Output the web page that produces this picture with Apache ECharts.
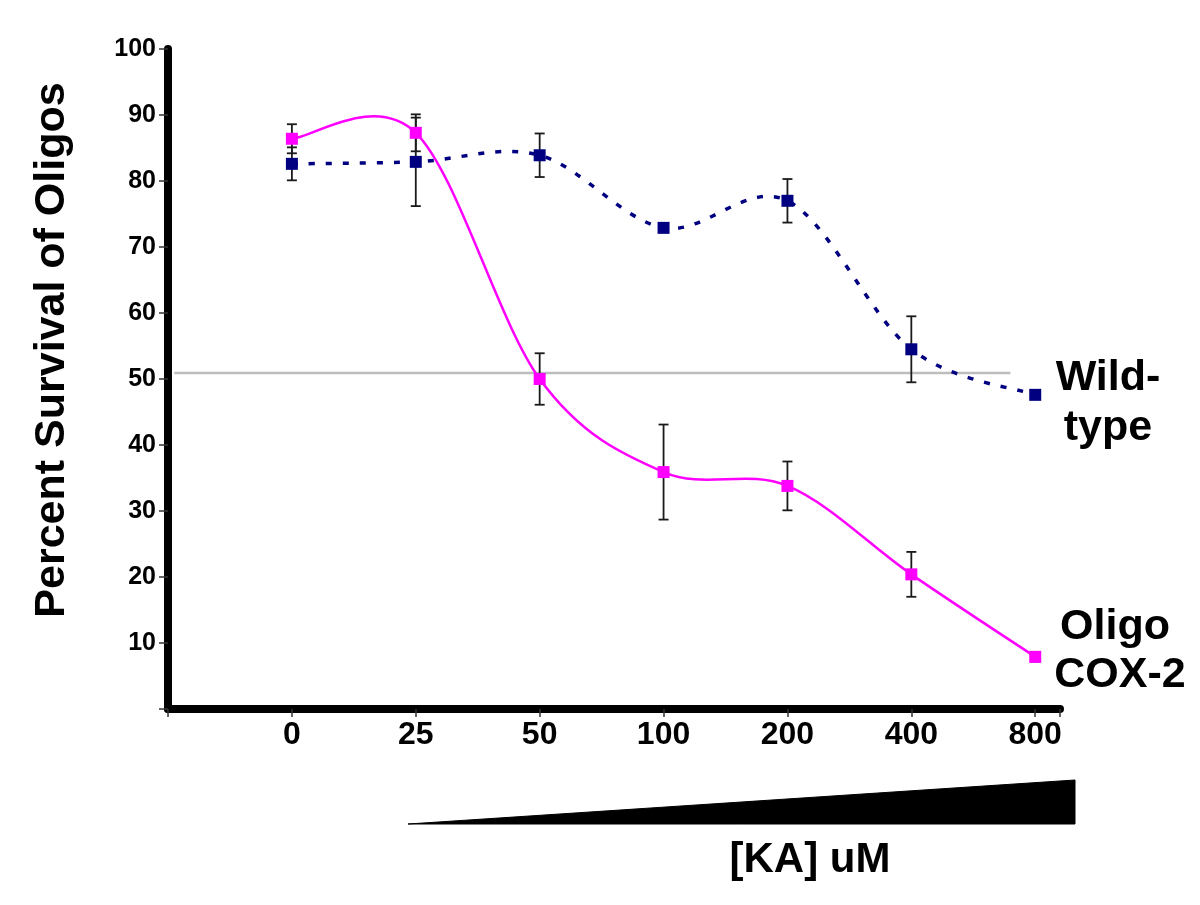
<!DOCTYPE html>
<html>
<head>
<meta charset="utf-8">
<script src="https://cdn.jsdelivr.net/npm/echarts@6/dist/echarts.min.js"></script>
<style>
html,body{margin:0;padding:0;background:#fff;}
#chart{width:1200px;height:905px;}
</style>
</head>
<body>
<div id="chart"></div>
<script>
// ---- data ----
const categories = ['0', '25', '50', '100', '200', '400', '800'];
const wildType = [82.6, 82.9, 83.9, 72.9, 77.0, 54.5, 47.6];
const wildTypeErr = [2.5, 6.7, 3.3, 0.4, 3.3, 5.0, 0.4];
const oligoCox2 = [86.4, 87.3, 50.0, 35.9, 33.8, 20.4, 7.9];
const oligoCox2Err = [2.2, 2.8, 3.9, 7.2, 3.7, 3.4, 0.7];
const yTicks = [0, 10, 20, 30, 40, 50, 60, 70, 80, 90, 100];
const thresholdValue = 50.9;
const thresholdSpan = [-0.95, 5.8];

// ---- build ----
const FONT = '"Liberation Sans", Arial, Helvetica, sans-serif';
const toXY = arr => arr.map((v, i) => [i, v]);
const toErr = (vals, errs) => vals.map((v, i) => [i, v - errs[i], v + errs[i]]);

function errRender(params, api) {
  const x = api.value(0);
  const lo = api.coord([x, api.value(1)]);
  const hi = api.coord([x, api.value(2)]);
  const w = 5;
  const st = { stroke: '#1a1a1a', lineWidth: 1.8 };
  return {
    type: 'group',
    children: [
      { type: 'line', shape: { x1: lo[0], y1: lo[1], x2: hi[0], y2: hi[1] }, style: st },
      { type: 'line', shape: { x1: lo[0] - w, y1: lo[1], x2: lo[0] + w, y2: lo[1] }, style: st },
      { type: 'line', shape: { x1: hi[0] - w, y1: hi[1], x2: hi[0] + w, y2: hi[1] }, style: st }
    ]
  };
}

// Catmull-Rom style smoothed curve (spreadsheet-like smoothing) through the data,
// positioned with the chart's own axes via api.coord.
function smoothCurve(values, style) {
  return function (params, api) {
    if (params.dataIndex !== 0) return null;
    const pts = values.map((v, i) => api.coord([i, v]));
    const n = pts.length;
    let d = 'M' + pts[0][0] + ' ' + pts[0][1];
    for (let i = 0; i < n - 1; i++) {
      const p0 = pts[Math.max(i - 1, 0)];
      const p1 = pts[i];
      const p2 = pts[i + 1];
      const p3 = pts[Math.min(i + 2, n - 1)];
      const c1x = p1[0] + (p2[0] - p0[0]) / 6;
      const c1y = p1[1] + (p2[1] - p0[1]) / 6;
      const c2x = p2[0] - (p3[0] - p1[0]) / 6;
      const c2y = p2[1] - (p3[1] - p1[1]) / 6;
      d += ' C' + c1x + ' ' + c1y + ' ' + c2x + ' ' + c2y + ' ' + p2[0] + ' ' + p2[1];
    }
    return {
      type: 'path',
      shape: { pathData: d },
      style: Object.assign({ fill: null }, style)
    };
  };
}

const chart = echarts.init(document.getElementById('chart'), null, { renderer: 'canvas' });
chart.setOption({
  animation: false,
  backgroundColor: '#ffffff',
  grid: { left: 168, right: 140, top: 49, bottom: 196, containLabel: false },
  xAxis: {
    type: 'value',
    min: -1,
    max: 6.2,
    interval: 1,
    splitLine: { show: false },
    axisLine: { show: true, onZero: false, lineStyle: { color: '#000', width: 8 } },
    axisTick: { show: true, length: 8, lineStyle: { color: '#333', width: 1.5 } },
    axisLabel: {
      margin: 10,
      fontFamily: FONT,
      fontWeight: 'bold',
      fontSize: 32,
      color: '#000',
      formatter: v => (Number.isInteger(v) && v >= 0 && v < categories.length) ? categories[v] : ''
    }
  },
  yAxis: {
    type: 'value',
    min: yTicks[0],
    max: yTicks[yTicks.length - 1],
    interval: 10,
    splitLine: { show: false },
    axisLine: { show: true, onZero: false, lineStyle: { color: '#000', width: 8 } },
    axisTick: { show: true, length: 9, lineStyle: { color: '#333', width: 1.5 } },
    axisLabel: {
      margin: 12,
      fontFamily: FONT,
      fontWeight: 'bold',
      fontSize: 25,
      color: '#000',
      formatter: v => (v === 0 ? '' : String(v))
    }
  },
  series: [
    {
      name: 'threshold',
      type: 'line',
      data: [[thresholdSpan[0], thresholdValue], [thresholdSpan[1], thresholdValue]],
      symbol: 'none',
      lineStyle: { color: '#bdbdbd', width: 2.5 },
      z: 1,
      silent: true
    },
    {
      name: 'Wild-type error',
      type: 'custom',
      renderItem: errRender,
      data: toErr(wildType, wildTypeErr),
      z: 2
    },
    {
      name: 'Oligo COX-2 error',
      type: 'custom',
      renderItem: errRender,
      data: toErr(oligoCox2, oligoCox2Err),
      z: 2
    },
    {
      name: 'Wild-type curve',
      type: 'custom',
      renderItem: smoothCurve(wildType, { stroke: '#000080', lineWidth: 3.5, lineDash: [6, 11] }),
      data: toXY(wildType),
      z: 3,
      silent: true
    },
    {
      name: 'Oligo COX-2 curve',
      type: 'custom',
      renderItem: smoothCurve(oligoCox2, { stroke: '#ff00ff', lineWidth: 2.5 }),
      data: toXY(oligoCox2),
      z: 4,
      silent: true
    },
    {
      name: 'Wild-type',
      type: 'scatter',
      data: toXY(wildType),
      symbol: 'rect',
      symbolSize: 12,
      itemStyle: { color: '#000080', opacity: 1 },
      z: 5
    },
    {
      name: 'Oligo COX-2',
      type: 'scatter',
      data: toXY(oligoCox2),
      symbol: 'rect',
      symbolSize: 12,
      itemStyle: { color: '#ff00ff', opacity: 1 },
      z: 6
    }
  ],
  graphic: [
    {
      type: 'text',
      x: 52, y: 350,
      rotation: Math.PI / 2,
      style: {
        text: 'Percent Survival of Oligos',
        font: 'bold 43px ' + FONT,
        fill: '#000',
        align: 'center',
        verticalAlign: 'middle'
      }
    },
    {
      type: 'text', x: 1108, y: 378,
      style: { text: 'Wild-', font: 'bold 43px ' + FONT, fill: '#000', align: 'center', verticalAlign: 'middle' }
    },
    {
      type: 'text', x: 1108, y: 428,
      style: { text: 'type', font: 'bold 43px ' + FONT, fill: '#000', align: 'center', verticalAlign: 'middle' }
    },
    {
      type: 'text', x: 1115, y: 627,
      style: { text: 'Oligo', font: 'bold 43px ' + FONT, fill: '#000', align: 'center', verticalAlign: 'middle' }
    },
    {
      type: 'text', x: 1120, y: 675,
      style: { text: 'COX-2', font: 'bold 43px ' + FONT, fill: '#000', align: 'center', verticalAlign: 'middle' }
    },
    {
      type: 'polygon',
      shape: { points: [[408, 824], [1075, 780], [1075, 824]] },
      style: { fill: '#000', stroke: '#000', lineWidth: 1 }
    },
    {
      type: 'text', x: 810, y: 860,
      style: { text: '[KA] uM', font: 'bold 42px ' + FONT, fill: '#000', align: 'center', verticalAlign: 'middle' }
    }
  ]
});
</script>
</body>
</html>
